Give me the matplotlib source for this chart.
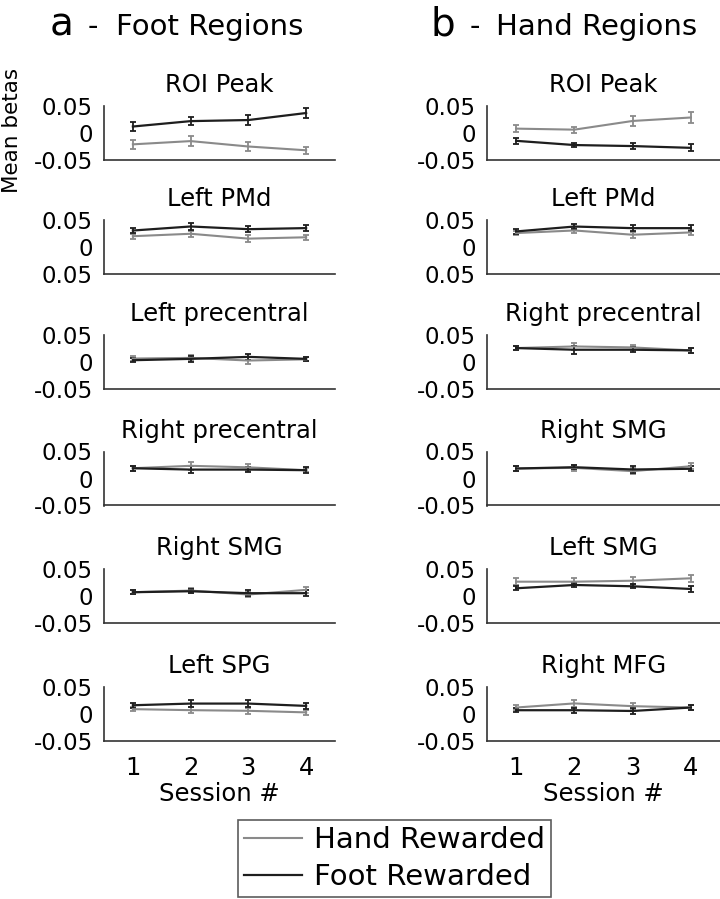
import numpy as np
import matplotlib.pyplot as plt

sessions = [1, 2, 3, 4]

foot_titles = ["ROI Peak", "Left PMd", "Left precentral", "Right precentral", "Right SMG", "Left SPG"]
hand_titles = ["ROI Peak", "Left PMd", "Right precentral", "Right SMG", "Left SMG", "Right MFG"]

# panel a (foot regions): gray = hand rewarded, black = foot rewarded
a_hand = [[-0.021, -0.015, -0.025, -0.032],
          [0.020, 0.0245, 0.0155, 0.018],
          [0.0064, 0.0076, 0.0027, 0.005],
          [0.019, 0.0235, 0.0207, 0.0154],
          [0.007, 0.010, 0.0028, 0.0114],
          [0.009, 0.0071, 0.0059, 0.003]]
a_hand_err = [[0.008, 0.010, 0.009, 0.0065],
              [0.005, 0.006, 0.006, 0.005],
              [0.004, 0.005, 0.007, 0.004],
              [0.005, 0.007, 0.006, 0.004],
              [0.004, 0.005, 0.005, 0.006],
              [0.004, 0.005, 0.005, 0.005]]
a_foot = [[0.012, 0.022, 0.024, 0.037],
          [0.0305, 0.038, 0.033, 0.035],
          [0.0033, 0.0058, 0.0095, 0.0058],
          [0.019, 0.0165, 0.0165, 0.0154],
          [0.007, 0.0088, 0.0052, 0.0052],
          [0.0162, 0.0193, 0.0193, 0.015]]
a_foot_err = [[0.009, 0.008, 0.010, 0.010],
              [0.005, 0.006, 0.005, 0.006],
              [0.004, 0.005, 0.005, 0.004],
              [0.005, 0.007, 0.005, 0.005],
              [0.004, 0.004, 0.005, 0.005],
              [0.005, 0.006, 0.006, 0.006]]

# panel b (hand regions)
b_hand = [[0.0081, 0.0062, 0.0223, 0.0287],
          [0.0258, 0.0306, 0.0227, 0.027],
          [0.0258, 0.0288, 0.027, 0.0215],
          [0.0185, 0.0197, 0.0136, 0.0227],
          [0.0265, 0.0265, 0.0283, 0.0328],
          [0.012, 0.0196, 0.0145, 0.012]]
b_hand_err = [[0.006, 0.0055, 0.0097, 0.011],
              [0.004, 0.005, 0.006, 0.005],
              [0.004, 0.006, 0.005, 0.005],
              [0.004, 0.005, 0.005, 0.006],
              [0.006, 0.006, 0.006, 0.006],
              [0.004, 0.006, 0.005, 0.004]]
b_foot = [[-0.0145, -0.0223, -0.0242, -0.0275],
          [0.0288, 0.0379, 0.0349, 0.0349],
          [0.0258, 0.0227, 0.0227, 0.0215],
          [0.0185, 0.0209, 0.0167, 0.018],
          [0.0143, 0.0204, 0.018, 0.013],
          [0.007, 0.007, 0.0056, 0.012]]
b_foot_err = [[0.005, 0.004, 0.005, 0.0065],
              [0.004, 0.005, 0.006, 0.006],
              [0.004, 0.007, 0.005, 0.005],
              [0.004, 0.004, 0.006, 0.005],
              [0.004, 0.004, 0.004, 0.005],
              [0.004, 0.005, 0.005, 0.004]]

ytick_vals = [-0.05, 0, 0.05]
ytick_text = ["-0.05", "0", "0.05"]
ytick_text_pmd = ["0.05", "0", "0.05"]  # as printed in the original

hand_col = "#8a8a8a"
foot_col = "#1e1e1e"

plt.rcParams['font.family'] = ['DejaVu Sans']

W, H = 720, 899
fig = plt.figure(figsize=(7.2, 8.99), dpi=100)

row_tops = [106, 220, 335, 451.5, 569, 687]
ax_h = 54


def draw_panel(ax, title, hand, hand_err, foot, foot_err, labels, bottom):
    ax.errorbar(sessions, hand, yerr=hand_err, color=hand_col, lw=1.5,
                capsize=2.5, elinewidth=1.3, capthick=1.3)
    ax.errorbar(sessions, foot, yerr=foot_err, color=foot_col, lw=1.6,
                capsize=2.5, elinewidth=1.3, capthick=1.3)
    ax.set_xlim(0.5, 4.5)
    ax.set_ylim(-0.05, 0.05)
    ax.set_yticks(ytick_vals)
    ax.set_yticklabels(labels)
    ax.set_xticks(sessions)
    if bottom:
        ax.set_xticklabels([str(s) for s in sessions])
        ax.set_xlabel("Session #", fontsize=17.5, labelpad=1)
    else:
        ax.set_xticklabels([])
    ax.tick_params(length=0, labelsize=16.5)
    ax.tick_params(axis='y', pad=8)
    ax.tick_params(axis='x', pad=11, labelsize=17.5)
    for s in ["top", "right"]:
        ax.spines[s].set_visible(False)
    for s in ["left", "bottom"]:
        ax.spines[s].set_color("#333333")
        ax.spines[s].set_linewidth(1.2)
    ax.set_title(title, fontsize=17.5, pad=10)


for i in range(6):
    y0 = 1 - (row_tops[i] + ax_h) / H
    labels = ytick_text_pmd if i == 1 else ytick_text
    ax = fig.add_axes([104 / W, y0, 231 / W, ax_h / H])
    draw_panel(ax, foot_titles[i], a_hand[i], a_hand_err[i], a_foot[i], a_foot_err[i],
               labels, i == 5)
    ax = fig.add_axes([487 / W, y0, 233 / W, ax_h / H])
    draw_panel(ax, hand_titles[i], b_hand[i], b_hand_err[i], b_foot[i], b_foot_err[i],
               labels, i == 5)

# panel headings
fig.text(50 / W, 1 - 35 / H, "a", fontsize=28, va="baseline", ha="left")
fig.text(88 / W, 1 - 35 / H, "-", fontsize=21, va="baseline", ha="left")
fig.text(116 / W, 1 - 35 / H, "Foot Regions", fontsize=21, va="baseline", ha="left")
fig.text(430 / W, 1 - 35 / H, "b", fontsize=28, va="baseline", ha="left")
fig.text(470 / W, 1 - 35 / H, "-", fontsize=21, va="baseline", ha="left")
fig.text(496 / W, 1 - 35 / H, "Hand Regions", fontsize=21, va="baseline", ha="left")

fig.text(12 / W, 1 - 130 / H, "Mean betas", fontsize=15.5, rotation=90,
         ha="center", va="center")

h1, = plt.plot([], [], color=hand_col, lw=1.5, label="Hand Rewarded")
h2, = plt.plot([], [], color=foot_col, lw=1.6, label="Foot Rewarded")
leg = fig.legend(handles=[h1, h2], loc="center",
                 bbox_to_anchor=((232 + 557) / 2 / W, 1 - (820 + 897) / 2 / H),
                 fontsize=21, frameon=True, fancybox=False, handlelength=2.0,
                 handletextpad=0.4, labelspacing=0.3, borderpad=0.2,
                 borderaxespad=0)
leg.get_frame().set_edgecolor("#333333")
leg.get_frame().set_linewidth(1.2)

plt.savefig("out.png", dpi=100)
